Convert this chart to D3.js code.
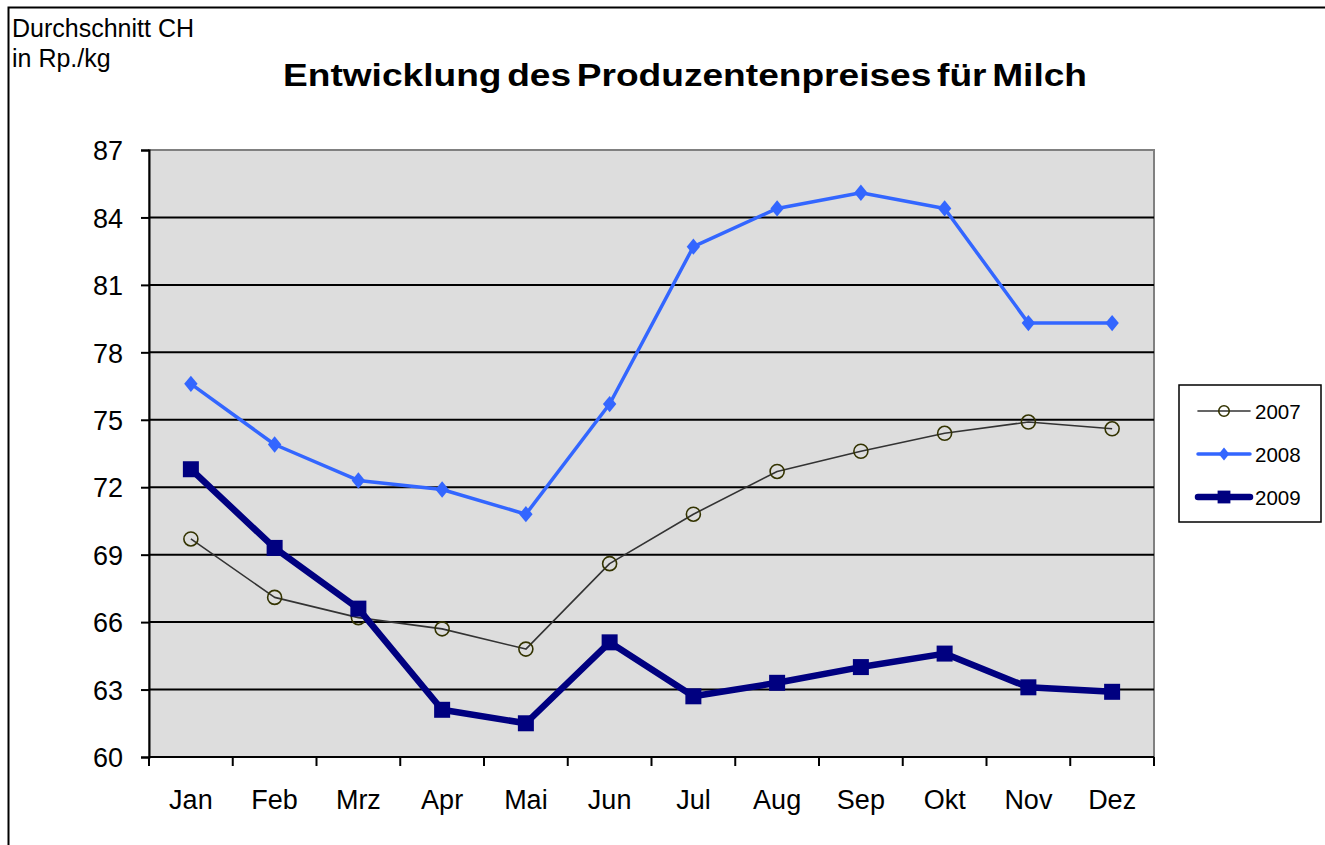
<!DOCTYPE html>
<html>
<head>
<meta charset="utf-8">
<script src="https://cdn.jsdelivr.net/npm/d3@7"></script>
<style>
    body { margin: 0; background: #fff; }
    svg { display: block; font-family: "Liberation Sans", Arial, sans-serif; }
</style>
</head>
<body>
<div id="chart"></div>
<script>
// Data
const months = ["Jan", "Feb", "Mrz", "Apr", "Mai", "Jun", "Jul", "Aug", "Sep", "Okt", "Nov", "Dez"];
const yTicks = [60, 63, 66, 69, 72, 75, 78, 81, 84, 87];
const values2007 = [69.7, 67.1, 66.2, 65.7, 64.8, 68.6, 70.8, 72.7, 73.6, 74.4, 74.9, 74.6];
const values2008 = [76.6, 73.9, 72.3, 71.9, 70.8, 75.7, 82.7, 84.4, 85.1, 84.4, 79.3, 79.3];
const values2009 = [72.8, 69.3, 66.6, 62.1, 61.5, 65.1, 62.7, 63.3, 64.0, 64.6, 63.1, 62.9];

const CHART = { width: 1325, height: 845, left: 149, right: 1154, top: 150, bottom: 757 };

const series = [
    { name: "2007", values: values2007, color: "#333333", width: 1.6, marker: "circle" },
    { name: "2008", values: values2008, color: "#3366FF", width: 3.5, marker: "diamond" },
    { name: "2009", values: values2009, color: "#000080", width: 6.5, marker: "square" }
];

const svg = d3.select("#chart")
    .append("svg")
    .attr("width", CHART.width)
    .attr("height", CHART.height);

// Outer chart border (clipped at right and bottom, like the source)
svg.append("rect")
    .attr("x", 8.5).attr("y", 7.5)
    .attr("width", 1400).attr("height", 900)
    .attr("fill", "#fff")
    .attr("stroke", "#000")
    .attr("stroke-width", 2);

const x = d3.scaleBand()
    .domain(months)
    .range([CHART.left, CHART.right]);

const y = d3.scaleLinear()
    .domain([60, 87])
    .range([CHART.bottom, CHART.top]);

const cx = d => x(d) + x.bandwidth() / 2;

// Plot area
svg.append("rect")
    .attr("x", CHART.left).attr("y", CHART.top)
    .attr("width", CHART.right - CHART.left)
    .attr("height", CHART.bottom - CHART.top)
    .attr("fill", "#DDDDDD")
    .attr("stroke", "#808080")
    .attr("stroke-width", 2);

// Grid lines
svg.append("g")
    .selectAll("line")
    .data(yTicks.slice(1, -1))
    .join("line")
    .attr("x1", CHART.left).attr("x2", CHART.right)
    .attr("y1", d => y(d)).attr("y2", d => y(d))
    .attr("stroke", "#000")
    .attr("stroke-width", 2);

// Y axis
const yAxis = svg.append("g")
    .attr("transform", `translate(${CHART.left},0)`)
    .call(d3.axisLeft(y).tickValues(yTicks).tickSize(8).tickPadding(18));
yAxis.attr("font-family", null);
yAxis.select(".domain").attr("stroke-width", 2);
yAxis.selectAll(".tick line").attr("stroke-width", 2);
yAxis.selectAll("text").style("font-size", "27px").attr("fill", "#000").attr("dy", "0.36em");

// X axis: ticks between categories
const xAxis = svg.append("g")
    .attr("transform", `translate(0,${CHART.bottom})`)
    .call(d3.axisBottom(x).tickSize(0).tickPadding(0));
xAxis.attr("font-family", null);
xAxis.select(".domain").attr("stroke-width", 2).attr("d", `M${CHART.left},0H${CHART.right}`);
xAxis.selectAll("text").style("font-size", "27px").attr("fill", "#000")
    .attr("y", 52).attr("dy", null);
xAxis.append("g")
    .selectAll("line")
    .data(months.map(m => x(m)).concat([CHART.right]))
    .join("line")
    .attr("x1", d => d).attr("x2", d => d)
    .attr("y1", 0).attr("y2", 9)
    .attr("stroke", "#000")
    .attr("stroke-width", 2);

// Marker drawing
function drawMarker(g, type, color, scale) {
    const s = scale || 1;
    if (type === "circle") {
        g.append("circle").attr("r", 7 * s)
            .attr("fill", "none").attr("stroke", "#333300").attr("stroke-width", 1.6);
    } else if (type === "diamond") {
        g.append("path").attr("d", d3.symbol(d3.symbolDiamond2, 170 * s * s))
            .attr("fill", color).attr("transform", "scale(0.82,1)");
    } else {
        g.append("rect")
            .attr("x", -8 * s).attr("y", -8 * s)
            .attr("width", 16 * s).attr("height", 16 * s)
            .attr("fill", color);
    }
}

const line = d3.line()
    .x((d, i) => cx(months[i]))
    .y(d => y(d));

series.forEach(s => {
    svg.append("path")
        .datum(s.values)
        .attr("d", line)
        .attr("fill", "none")
        .attr("stroke", s.color)
        .attr("stroke-width", s.width)
        .attr("stroke-linejoin", "round");
    s.values.forEach((v, i) => {
        const g = svg.append("g").attr("transform", `translate(${cx(months[i])},${y(v)})`);
        drawMarker(g, s.marker, s.color);
    });
});

// Title and unit label (Excel draws it wider than the font's natural width)
svg.append("text")
    .attr("x", 283).attr("y", 86)
    .style("font-size", "32px")
    .style("font-weight", "bold")
    .style("word-spacing", "-4px")
    .attr("textLength", 804)
    .attr("lengthAdjust", "spacingAndGlyphs")
    .text("Entwicklung des Produzentenpreises für Milch");

svg.append("text")
    .attr("x", 12).attr("y", 37)
    .style("font-size", "25px")
    .text("Durchschnitt CH");
svg.append("text")
    .attr("x", 12).attr("y", 67)
    .style("font-size", "25px")
    .text("in Rp./kg");

// Legend
const legend = svg.append("g");
legend.append("rect")
    .attr("x", 1179).attr("y", 385)
    .attr("width", 142).attr("height", 137)
    .attr("fill", "#fff")
    .attr("stroke", "#000")
    .attr("stroke-width", 1.5);

series.forEach((s, i) => {
    const ly = 411 + i * 43;
    legend.append("line")
        .attr("x1", 1198).attr("x2", 1250)
        .attr("y1", ly).attr("y2", ly)
        .attr("stroke", s.color)
        .attr("stroke-width", s.width)
        .attr("stroke-linecap", "round");
    const g = legend.append("g").attr("transform", `translate(1224,${ly})`);
    drawMarker(g, s.marker, s.color, s.marker === "circle" ? 0.75 : 0.8);
    legend.append("text")
        .attr("x", 1255).attr("y", ly + 8)
        .style("font-size", "20.5px")
        .text(s.name);
});
</script>
</body>
</html>
